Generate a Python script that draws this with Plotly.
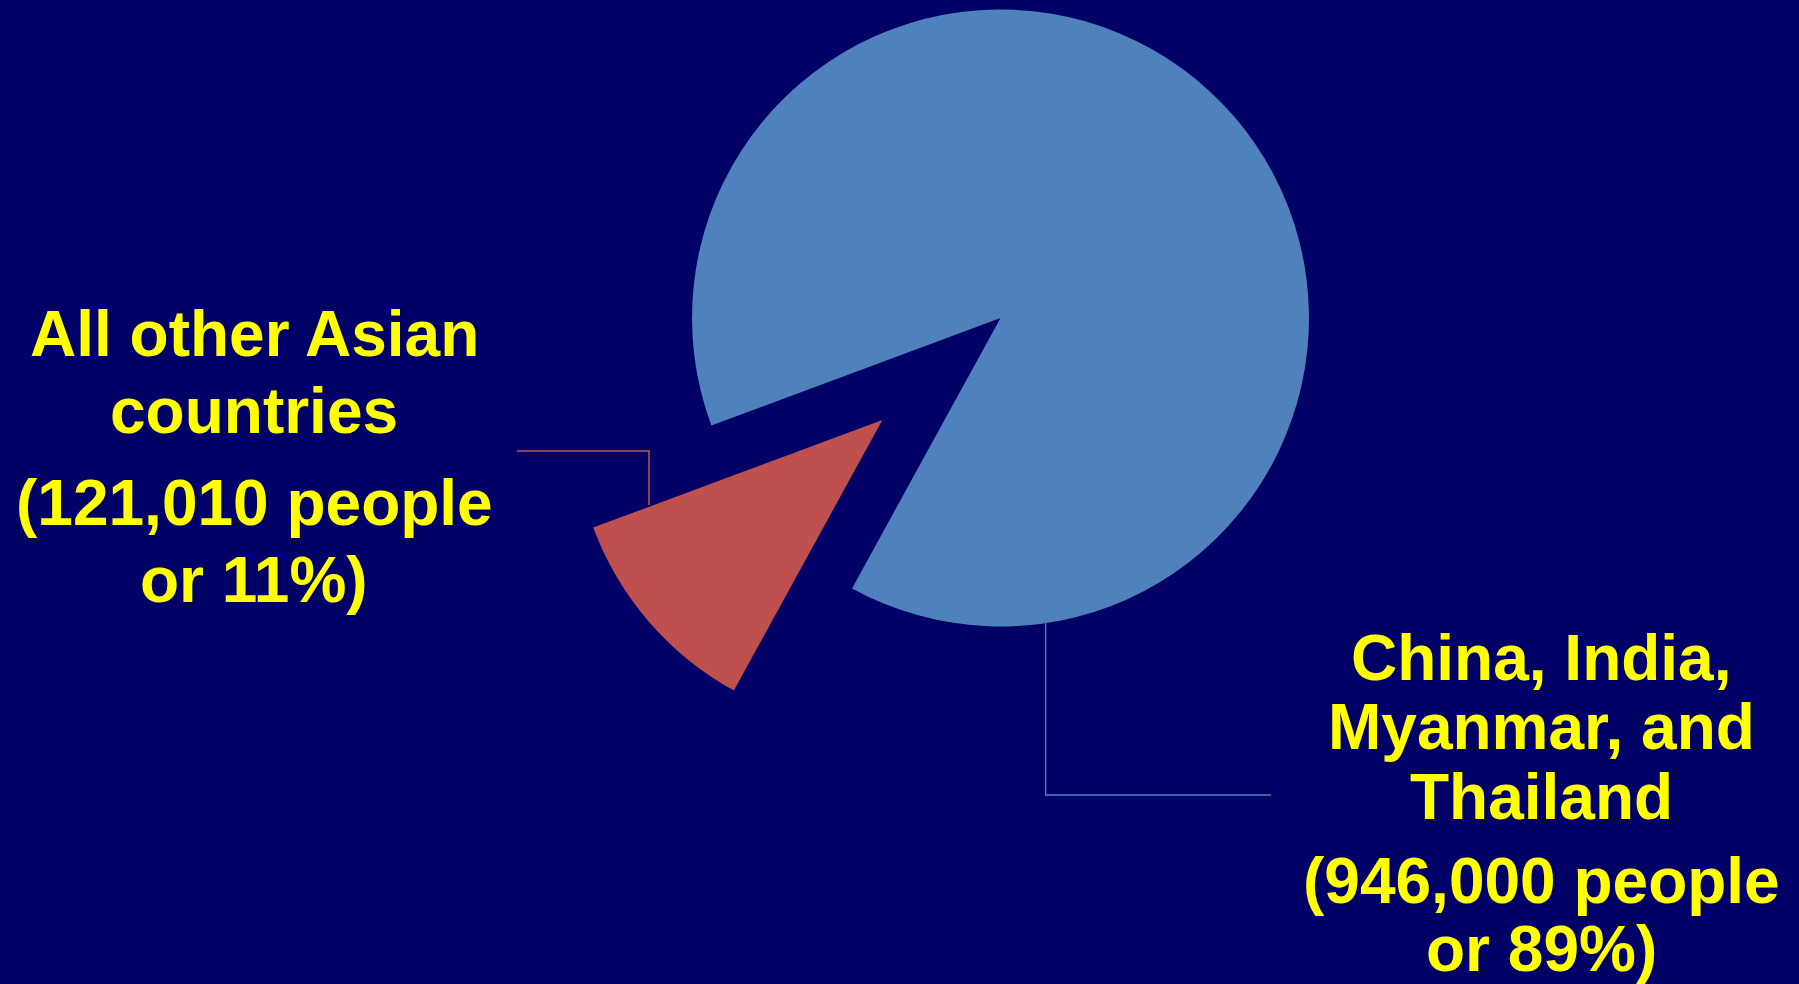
import math
import plotly.graph_objects as go

# ---- data ----
categories = ["All other Asian countries", "China, India, Myanmar, and Thailand"]
people = [121010, 946000]
colors = ["#C0504D", "#4F81BD"]
pull_other = 0.506
label_other = ["All other Asian", "countries", "(121,010 people", "or 11%)"]
label_main = ["China, India,", "Myanmar, and", "Thailand", "(946,000 people", "or 89%)"]

W, H = 1799, 984
BG = "#000066"
YELLOW = "#FFFF00"

def px(x):
    return x / W

def py(y):
    return 1 - y / H

# geometry of the pie (pixels)
cx, cy, r = 1000.5, 318.0, 308.5
start_deg = 200.4  # math angle where the small slice begins (counterclockwise)

total = sum(people)
frac0 = people[0] / total
# plotly (counterclockwise): first slice lies clockwise of the rotation point
rotation = 90 - (start_deg + frac0 * 360)
mid = math.radians(start_deg + frac0 * 360 / 2)
dx = pull_other * r * math.cos(mid)
dy = -pull_other * r * math.sin(mid)
rcx, rcy = cx + dx, cy + dy

def dom(cx_, cy_):
    return dict(x=[px(cx_ - r), px(cx_ + r)], y=[py(cy_ + r), py(cy_ - r)])

fig = go.Figure()
# main (blue) slice
fig.add_trace(go.Pie(
    labels=categories, values=people, sort=False, direction="counterclockwise",
    rotation=rotation, domain=dom(cx, cy), textinfo="none", hoverinfo="label+value+percent",
    marker=dict(colors=["rgba(0,0,0,0)", colors[1]], line=dict(width=0)),
    showlegend=False,
))
# pulled-out (red) slice
fig.add_trace(go.Pie(
    labels=categories, values=people, sort=False, direction="counterclockwise",
    rotation=rotation, domain=dom(rcx, rcy), textinfo="none", hoverinfo="label+value+percent",
    marker=dict(colors=[colors[0], "rgba(0,0,0,0)"], line=dict(width=0)),
    showlegend=False,
))

FS = 64
annotations = []
left_base = [356.7, 434, 526, 602.3]
for t, b in zip(label_other, left_base):
    annotations.append(dict(
        x=px(254), y=py(b - 22.8), xref="paper", yref="paper", text="<b>%s</b>" % t,
        showarrow=False, xanchor="center", yanchor="middle",
        font=dict(family="Liberation Sans, Arial, sans-serif", size=FS, color=YELLOW)))
right_base = [681, 750, 819.3, 904, 971.7]
for t, b in zip(label_main, right_base):
    annotations.append(dict(
        x=px(1541), y=py(b - 22.8), xref="paper", yref="paper", text="<b>%s</b>" % t,
        showarrow=False, xanchor="center", yanchor="middle",
        font=dict(family="Liberation Sans, Arial, sans-serif", size=FS, color=YELLOW)))

shapes = [
    dict(type="path", xref="paper", yref="paper",
         path="M %f,%f L %f,%f L %f,%f" % (px(517), py(451), px(649), py(451), px(649), py(505)),
         line=dict(color=colors[0], width=1.5)),
    dict(type="path", xref="paper", yref="paper",
         path="M %f,%f L %f,%f L %f,%f" % (px(1045.7), py(538), px(1045.7), py(795), px(1271), py(795)),
         line=dict(color=colors[1], width=1.3)),
]

fig.update_layout(
    width=W, height=H, margin=dict(l=0, r=0, t=0, b=0),
    paper_bgcolor=BG, plot_bgcolor=BG,
    annotations=annotations, shapes=shapes, showlegend=False,
)
fig.write_html(
    "out.html",
    config={"displayModeBar": False},
    post_script="document.body.style.margin='0';document.body.style.overflow='hidden';"
                "document.body.style.background='%s';" % BG,
)
